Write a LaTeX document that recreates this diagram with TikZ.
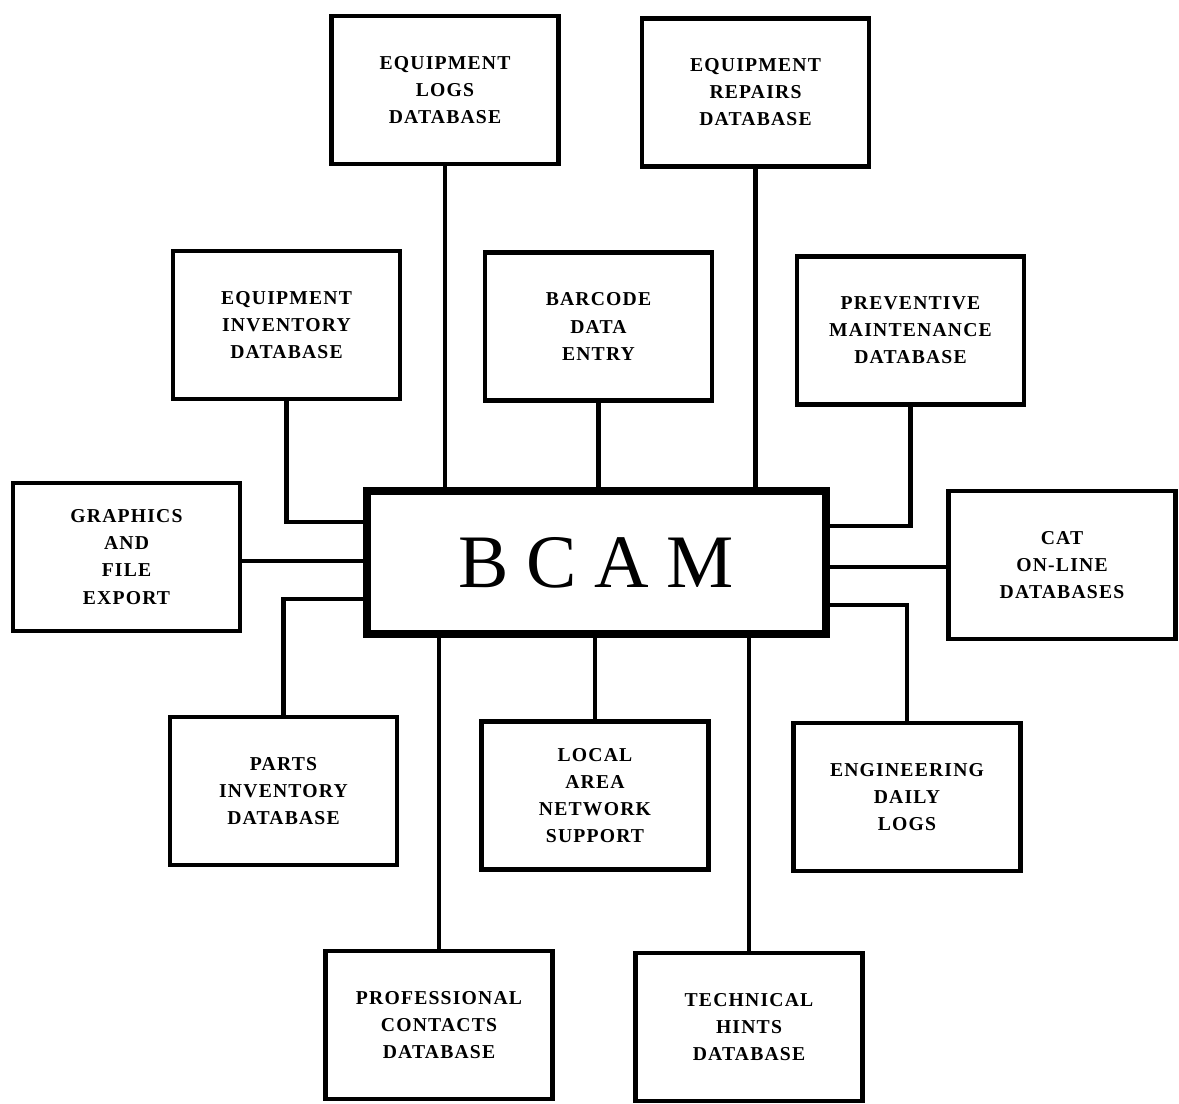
\documentclass[tikz,border=0pt]{standalone}
\usepackage{fontspec}
\setmainfont{Liberation Serif}
\newfontfamily\boxfont[LetterSpace=6]{Liberation Serif}
\usepackage{tikz}

\tikzset{
  dbbox/.style={draw, line width=2.8pt, minimum width=4.54cm, minimum height=2.96cm,
    inner sep=0pt, align=center, font=\boxfont\bfseries\fontsize{11.2}{15.4}\selectfont},
  hub/.style={draw, line width=4.5pt, minimum width=9.18cm, minimum height=2.86cm,
    inner sep=0pt, font=\fontsize{43}{50}\selectfont},
  link/.style={line width=2.8pt}
}

\begin{document}
\begin{tikzpicture}[x=0.02cm, y=-0.02cm]
    \fill[white] (0,0) rectangle (1179,1103);
    \useasboundingbox (0,0) rectangle (1179,1103);

    % Central system
    \node[hub] (bcam) at (596.5, 562.5) {B\hspace{10pt}C\hspace{10pt}A\hspace{10pt}M};

    % Top row
    \node[dbbox] (eqlogs) at (445, 90) {EQUIPMENT\\LOGS\\DATABASE};
    \node[dbbox] (eqrepairs) at (755.5, 92.5) {EQUIPMENT\\REPAIRS\\DATABASE};

    % Second row
    \node[dbbox] (eqinv) at (286.5, 325) {EQUIPMENT\\INVENTORY\\DATABASE};
    \node[dbbox] (barcode) at (598.5, 326.5) {BARCODE\\DATA\\ENTRY};
    \node[dbbox] (prevmaint) at (910.5, 330.5) {PREVENTIVE\\MAINTENANCE\\DATABASE};

    % Left and right of the hub
    \node[dbbox] (graphics) at (126.5, 557) {GRAPHICS\\AND\\FILE\\EXPORT};
    \node[dbbox] (catdb) at (1062, 565) {CAT\\ON-LINE\\DATABASES};

    % Fourth row
    \node[dbbox] (parts) at (283.5, 791) {PARTS\\INVENTORY\\DATABASE};
    \node[dbbox] (lan) at (595, 795.5) {LOCAL\\AREA\\NETWORK\\SUPPORT};
    \node[dbbox] (englogs) at (907, 797) {ENGINEERING\\DAILY\\LOGS};

    % Bottom row
    \node[dbbox] (contacts) at (439, 1025) {PROFESSIONAL\\CONTACTS\\DATABASE};
    \node[dbbox] (hints) at (749, 1027) {TECHNICAL\\HINTS\\DATABASE};

    % Straight links
    \draw[link] (eqlogs.south) -- (eqlogs.south |- bcam.north);
    \draw[link] (eqrepairs.south) -- (eqrepairs.south |- bcam.north);
    \draw[link] (barcode.south) -- (barcode.south |- bcam.north);
    \draw[link] (lan.north) -- (lan.north |- bcam.south);
    \draw[link] (contacts.north) -- (contacts.north |- bcam.south);
    \draw[link] (hints.north) -- (hints.north |- bcam.south);
    \draw[link] (graphics.east |- 0,561) -- (bcam.west |- 0,561);
    \draw[link] (catdb.west |- 0,567) -- (bcam.east |- 0,567);

    % Elbow links
    \draw[link] (eqinv.south) |- (bcam.west |- 0,522);
    \draw[link] (prevmaint.south) |- (bcam.east |- 0,526);
    \draw[link] (parts.north) |- (bcam.west |- 0,599);
    \draw[link] (englogs.north) |- (bcam.east |- 0,605);
\end{tikzpicture}
\end{document}
